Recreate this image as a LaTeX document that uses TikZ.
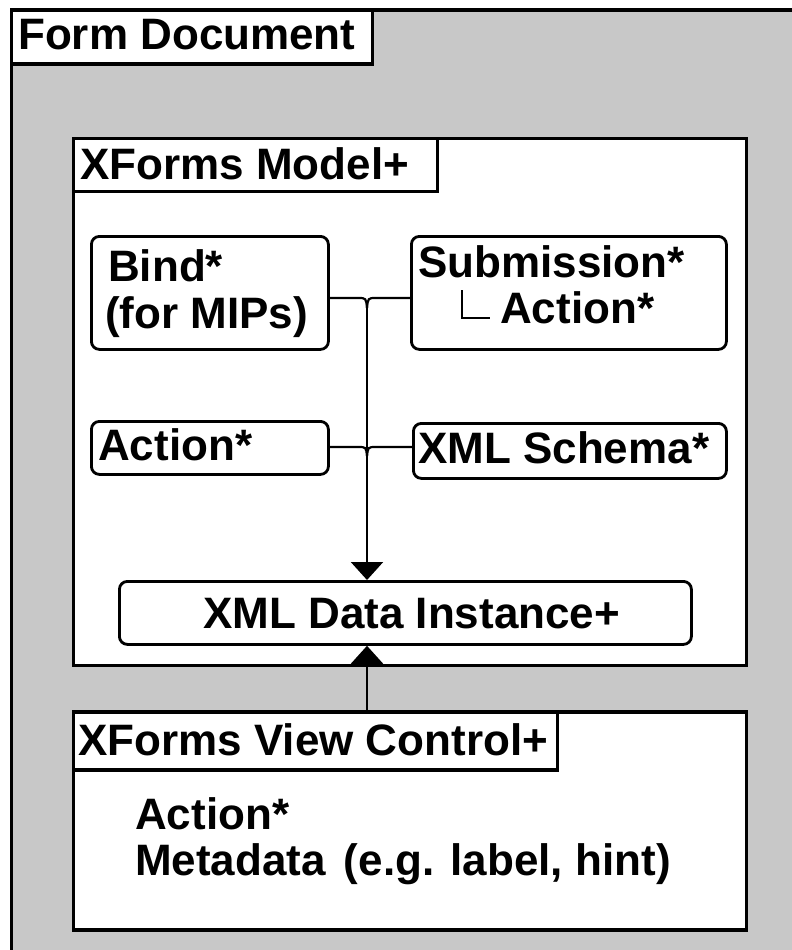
\documentclass[tikz,border=0pt]{standalone}
\usepackage{fontspec}
\setmainfont{Liberation Sans}
\usetikzlibrary{arrows.meta}
\definecolor{bg}{RGB}{200,200,200}
\begin{document}
\begin{tikzpicture}[x=1pt,y=-1pt,
  frame/.style={draw=black, line width=3.5pt, fill=white, inner sep=0pt, anchor=north west},
  rbox/.style={draw=black, line width=2.8pt, rounded corners=8pt, fill=white, inner sep=0pt, anchor=north west},
  txt/.style={anchor=base west, inner sep=0pt, font=\bfseries\fontsize{44}{50}\selectfont},
  conn/.style={draw=black, line width=2.2pt},
  arr/.style={conn, -{Triangle[width=32pt,length=18pt]}}]
\useasboundingbox (0,0) rectangle (792,950);
\clip (0,0) rectangle (792,950);
% outer frame
\node[frame, fill=bg, minimum width=800pt, minimum height=960pt] (outer) at (9.5,8.5) {};
\node[frame, minimum width=361pt, minimum height=54pt] (outerlbl) at (9.5,8.5) {};
\node[txt] (touter) at (18,50) {Form Document};
% model
\node[frame, minimum width=673pt, minimum height=527pt] (model) at (71.5,136.5) {};
\node[frame, minimum width=364pt, minimum height=53pt] (modellbl) at (71.5,136.5) {};
\node[txt] (tmodel) at (80,179) {XForms Model+};
% boxes
\node[rbox, minimum width=237pt, minimum height=113pt] (bind) at (90,235) {};
\node[txt] (tbind1) at (108,281) {Bind*};
\node[txt] (tbind2) at (105,328) {(for MIPs)};
\node[rbox, minimum width=315pt, minimum height=113pt] (sub) at (410,235) {};
\node[txt] (tsub1) at (418,277) {Submission*};
\node[txt] (tsub2) at (500,323) {Action*};
\coordinate (la) at (462,290);
\coordinate (lb) at (462,318);
\coordinate (lc) at (490,318);
\draw[line width=1.8pt] (la) -- (lb) -- (lc);
\node[rbox, minimum width=237pt, minimum height=53pt] (act) at (90,420) {};
\node[txt] (tact) at (98,460) {Action*};
\node[rbox, minimum width=313pt, minimum height=55pt] (schema) at (412,422) {};
\node[txt] (tschema) at (418,463) {XML Schema*};
\node[rbox, minimum width=572pt, minimum height=63pt] (data) at (118,580) {};
\node[txt] (tdata) at (203,628) {XML Data Instance+};
% view
\node[frame, minimum width=673pt, minimum height=218pt] (view) at (71.5,710) {};
\node[frame, minimum width=484pt, minimum height=58pt] (viewlbl) at (71.5,710) {};
\node[txt] (tview) at (78,755) {XForms View Control+};
\node[txt] (tview1) at (135,829) {Action*};
\node[txt] (tview2) at (135,875) {Metadata\hspace{18pt}(e.g. label, hint)};
% connectors
\coordinate (j1) at (367,308);
\coordinate (j1l) at (358,298);
\coordinate (j1r) at (376,298);
\coordinate (j2) at (367,456);
\coordinate (j2l) at (358,447);
\coordinate (j2r) at (376,447);
\draw[conn] (bind.east |- j1l) -- (j1l) .. controls (366,298) .. (j1);
\draw[conn] (sub.west |- j1r) -- (j1r) .. controls (368,298) .. (j1);
\draw[conn] (act.east |- j2l) -- (j2l) .. controls (366,447) .. (j2);
\draw[conn] (schema.west |- j2r) -- (j2r) .. controls (368,447) .. (j2);
\draw[arr] (j1) -- (j1 |- data.north);
\draw[arr] (j1 |- view.north) -- (j1 |- data.south);
\end{tikzpicture}
\end{document}
